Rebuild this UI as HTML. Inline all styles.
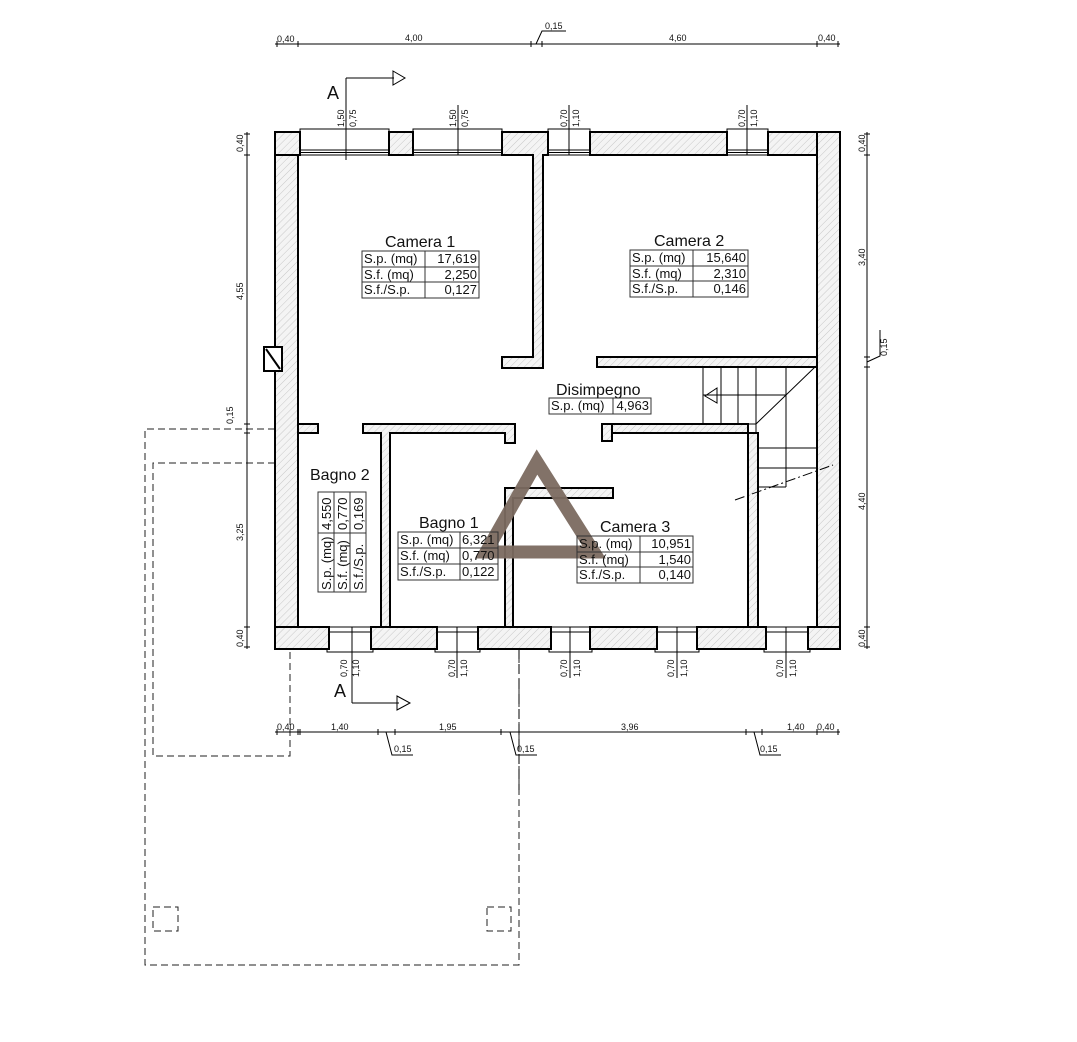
<!DOCTYPE html>
<html><head><meta charset="utf-8"><style>
html,body{margin:0;padding:0;background:#fff}
svg{display:block}
text{font-family:"Liberation Sans",sans-serif;fill:#111}
.t{font-size:13px}
.d{font-size:9px}
.h{font-size:16px}
</style></head><body>
<svg width="1077" height="1042" viewBox="0 0 1077 1042" xmlns="http://www.w3.org/2000/svg">
<defs>
<pattern id="hp" width="5" height="5" patternUnits="userSpaceOnUse" patternTransform="rotate(45)">
<rect width="5" height="5" fill="#f4f4f4"/><line x1="0" y1="0" x2="0" y2="5" stroke="#c8c8c8" stroke-width="1"/>
</pattern>
</defs>
<rect width="1077" height="1042" fill="#fff"/>

<g fill="none" stroke="#222" stroke-width="1" stroke-dasharray="7,4">
<path d="M275 429 H145 V965 H519 V649"/>
<path d="M275 463 H153 V756 H290 V649"/>
<rect x="153" y="907" width="25" height="24"/>
<rect x="487" y="907" width="24" height="24"/>
</g>

<g fill="url(#hp)" stroke="#000" stroke-width="2">
<rect x="275" y="132" width="23" height="517"/>
<rect x="275" y="132" width="25" height="23"/>
<rect x="389" y="132" width="24" height="23"/>
<path d="M502 132 H548 V155 H543 V368 H502 V357 H533 V155 H502 Z"/>
<rect x="590" y="132" width="137" height="23"/>
<rect x="768" y="132" width="72" height="23"/>
<rect x="817" y="132" width="23" height="517"/>
<rect x="275" y="627" width="54" height="22"/>
<rect x="371" y="627" width="66" height="22"/>
<rect x="478" y="627" width="73" height="22"/>
<rect x="590" y="627" width="67" height="22"/>
<rect x="697" y="627" width="69" height="22"/>
<rect x="808" y="627" width="32" height="22"/>
<rect x="597" y="357" width="220" height="10"/>
<rect x="298" y="424" width="20" height="9"/>
<path d="M363 424 H515 V443 H505 V433 H390 V627 H381 V433 H363 Z"/>
<rect x="748" y="433" width="10" height="194"/>
<rect x="602" y="424" width="146" height="9"/>
<rect x="602" y="424" width="10" height="17"/>
<path d="M505 488 H613 V498 H513 V627 H505 Z"/>
</g>
<rect x="264" y="347" width="18" height="24" fill="#fff" stroke="#000" stroke-width="2"/>
<line x1="266" y1="349" x2="280" y2="369" stroke="#000" stroke-width="2"/>

<g fill="none" stroke="#000" stroke-width="1">
<rect x="300" y="150" width="89" height="5"/><line x1="300" y1="152.5" x2="389" y2="152.5"/>
<rect x="413" y="150" width="89" height="5"/><line x1="413" y1="152.5" x2="502" y2="152.5"/>
<rect x="548" y="150" width="42" height="5"/><line x1="548" y1="152.5" x2="590" y2="152.5"/>
<rect x="727" y="150" width="41" height="5"/><line x1="727" y1="152.5" x2="768" y2="152.5"/>
<path d="M300 132 V129 H389 V132 M413 132 V129 H502 V132 M548 132 V129 H590 V132 M727 132 V129 H768 V132"/>
<rect x="329" y="627" width="42" height="5"/><rect x="437" y="627" width="41" height="5"/>
<rect x="551" y="627" width="39" height="5"/><rect x="657" y="627" width="40" height="5"/>
<rect x="766" y="627" width="42" height="5"/>
<path d="M327 649 V652 H373 V649 M435 649 V652 H480 V649 M549 649 V652 H592 V649 M655 649 V652 H699 V649 M764 649 V652 H810 V649"/>
<line x1="346" y1="78" x2="346" y2="160"/><line x1="458" y1="105" x2="458" y2="155"/>
<line x1="569" y1="105" x2="569" y2="155"/><line x1="747" y1="105" x2="747" y2="155"/>
<line x1="352" y1="627" x2="352" y2="703"/><line x1="457" y1="627" x2="457" y2="678"/>
<line x1="570" y1="627" x2="570" y2="678"/><line x1="677" y1="627" x2="677" y2="678"/>
<line x1="786" y1="627" x2="786" y2="678"/>
</g>

<g fill="none" stroke="#000" stroke-width="1">
<line x1="703" y1="367" x2="703" y2="424"/><line x1="721" y1="367" x2="721" y2="424"/>
<line x1="738" y1="367" x2="738" y2="424"/><line x1="756" y1="367" x2="756" y2="433"/>
<line x1="786" y1="367" x2="786" y2="487"/>
<line x1="703" y1="395" x2="786" y2="395"/>
<line x1="756" y1="424" x2="815" y2="367"/>
<line x1="612" y1="424" x2="756" y2="424"/>
<line x1="758" y1="448" x2="817" y2="448"/><line x1="758" y1="468" x2="817" y2="468"/><line x1="758" y1="487" x2="786" y2="487"/>
<path d="M717 388 L705 396 L717 403 Z"/>
<line x1="735" y1="500" x2="833" y2="465" stroke-dasharray="10,3,2,3"/>
</g>

<g fill="none" stroke="#7b6a60" stroke-width="13" opacity="0.95">
<path d="M537 462 L486 552 L594 552 Z"/>
</g>

<g fill="none" stroke="#000" stroke-width="1">
<line x1="346" y1="78" x2="394" y2="78"/><path d="M393 71 L405 78 L393 85 Z"/>
<line x1="352" y1="703" x2="399" y2="703"/><path d="M397 696 L410 703 L397 710 Z"/>
</g>
<text x="327" y="99" style="font-size:18px">A</text>
<text x="334" y="697" style="font-size:18px">A</text>

<g stroke="#000" stroke-width="1" fill="none">
<line x1="275" y1="44" x2="840" y2="44"/>
<path d="M277 41 v6 M298 41 v6 M531 41 v6 M542 41 v6 M817 41 v6 M838 41 v6"/>
<path d="M536 44 L542 31 H566"/>
<line x1="275" y1="732" x2="840" y2="732"/>
<path d="M277 729 v6 M298 729 v6 M300 729 v6 M378 729 v6 M395 729 v6 M501 729 v6 M519 729 v6 M746 729 v6 M762 729 v6 M817 729 v6 M838 729 v6"/>
<path d="M386 732 L392 755 H413 M510 732 L516 755 H537 M754 732 L760 755 H781"/>
<line x1="519" y1="649" x2="519" y2="790" stroke-dasharray="10,5"/>
<line x1="247" y1="132" x2="247" y2="649"/>
<path d="M244 134 h6 M244 155 h6 M244 424 h6 M244 433 h6 M244 627 h6 M244 647 h6"/>
<line x1="867" y1="132" x2="867" y2="649"/>
<path d="M864 134 h6 M864 155 h6 M864 357 h6 M864 367 h6 M864 627 h6 M864 647 h6"/>
<path d="M867 362 L880 356 V330"/>
</g>
<g class="d">
<text x="277" y="42">0,40</text>
<text x="405" y="41">4,00</text>
<text x="669" y="41">4,60</text>
<text x="818" y="41">0,40</text>
<text x="545" y="29">0,15</text>
<text x="277" y="730">0,40</text>
<text x="331" y="730">1,40</text>
<text x="439" y="730">1,95</text>
<text x="621" y="730">3,96</text>
<text x="787" y="730">1,40</text>
<text x="817" y="730">0,40</text>
<text x="394" y="752">0,15</text>
<text x="517" y="752">0,15</text>
<text x="760" y="752">0,15</text>
</g>
<g class="d">
<text transform="translate(243,152) rotate(-90)">0,40</text>
<text transform="translate(243,300) rotate(-90)">4,55</text>
<text transform="translate(233,424) rotate(-90)">0,15</text>
<text transform="translate(243,541) rotate(-90)">3,25</text>
<text transform="translate(243,647) rotate(-90)">0,40</text>
<text transform="translate(865,152) rotate(-90)">0,40</text>
<text transform="translate(865,266) rotate(-90)">3,40</text>
<text transform="translate(887,356) rotate(-90)">0,15</text>
<text transform="translate(865,510) rotate(-90)">4,40</text>
<text transform="translate(865,647) rotate(-90)">0,40</text>
<text transform="translate(344,127) rotate(-90)">1,50</text>
<text transform="translate(356,127) rotate(-90)">0,75</text>
<text transform="translate(456,127) rotate(-90)">1,50</text>
<text transform="translate(468,127) rotate(-90)">0,75</text>
<text transform="translate(567,127) rotate(-90)">0,70</text>
<text transform="translate(579,127) rotate(-90)">1,10</text>
<text transform="translate(745,127) rotate(-90)">0,70</text>
<text transform="translate(757,127) rotate(-90)">1,10</text>
<text transform="translate(347,677) rotate(-90)">0,70</text>
<text transform="translate(359,677) rotate(-90)">1,10</text>
<text transform="translate(455,677) rotate(-90)">0,70</text>
<text transform="translate(467,677) rotate(-90)">1,10</text>
<text transform="translate(567,677) rotate(-90)">0,70</text>
<text transform="translate(580,677) rotate(-90)">1,10</text>
<text transform="translate(674,677) rotate(-90)">0,70</text>
<text transform="translate(687,677) rotate(-90)">1,10</text>
<text transform="translate(783,677) rotate(-90)">0,70</text>
<text transform="translate(796,677) rotate(-90)">1,10</text>
</g>

<g fill="none" stroke="#333" stroke-width="1">
<rect x="362" y="251" width="117" height="47"/><path d="M362 267 H479 M362 282 H479 M425 251 V298"/>
<rect x="630" y="250" width="118" height="47"/><path d="M630 266 H748 M630 281 H748 M693 250 V297"/>
<rect x="549" y="398" width="102" height="16"/><path d="M613 398 V414"/>
<rect x="398" y="532" width="100" height="48"/><path d="M398 548 H498 M398 564 H498 M460 532 V580"/>
<rect x="577" y="536" width="116" height="47"/><path d="M577 552 H693 M577 567 H693 M640 536 V583"/>
<rect x="318" y="492" width="48" height="100"/><path d="M334 492 V592 M350 492 V592 M318 533 H366"/>
</g>
<text class="h" x="385" y="247">Camera 1</text>
<text class="t" x="364" y="263">S.p. (mq)</text><text class="t" x="477" y="263" text-anchor="end">17,619</text>
<text class="t" x="364" y="279">S.f.  (mq)</text><text class="t" x="477" y="279" text-anchor="end">2,250</text>
<text class="t" x="364" y="294">S.f./S.p.</text><text class="t" x="477" y="294" text-anchor="end">0,127</text>
<text class="h" x="654" y="246">Camera 2</text>
<text class="t" x="632" y="262">S.p. (mq)</text><text class="t" x="746" y="262" text-anchor="end">15,640</text>
<text class="t" x="632" y="278">S.f.  (mq)</text><text class="t" x="746" y="278" text-anchor="end">2,310</text>
<text class="t" x="632" y="293">S.f./S.p.</text><text class="t" x="746" y="293" text-anchor="end">0,146</text>
<text class="h" x="556" y="395">Disimpegno</text>
<text class="t" x="551" y="410">S.p. (mq)</text><text class="t" x="649" y="410" text-anchor="end">4,963</text>
<text class="h" x="419" y="528">Bagno 1</text>
<text class="t" x="400" y="544">S.p. (mq)</text><text class="t" x="462" y="544">6,321</text>
<text class="t" x="400" y="560">S.f.  (mq)</text><text class="t" x="462" y="560">0,770</text>
<text class="t" x="400" y="576">S.f./S.p.</text><text class="t" x="462" y="576">0,122</text>
<text class="h" x="600" y="532">Camera 3</text>
<text class="t" x="579" y="548">S.p. (mq)</text><text class="t" x="691" y="548" text-anchor="end">10,951</text>
<text class="t" x="579" y="564">S.f.  (mq)</text><text class="t" x="691" y="564" text-anchor="end">1,540</text>
<text class="t" x="579" y="579">S.f./S.p.</text><text class="t" x="691" y="579" text-anchor="end">0,140</text>
<text class="h" x="310" y="480">Bagno 2</text>
<text class="t" transform="translate(331,590) rotate(-90)">S.p. (mq)</text>
<text class="t" transform="translate(347,590) rotate(-90)">S.f.  (mq)</text>
<text class="t" transform="translate(363,590) rotate(-90)">S.f./S.p.</text>
<text class="t" transform="translate(331,530) rotate(-90)">4,550</text>
<text class="t" transform="translate(347,530) rotate(-90)">0,770</text>
<text class="t" transform="translate(363,530) rotate(-90)">0,169</text>
</svg>
</body></html>
